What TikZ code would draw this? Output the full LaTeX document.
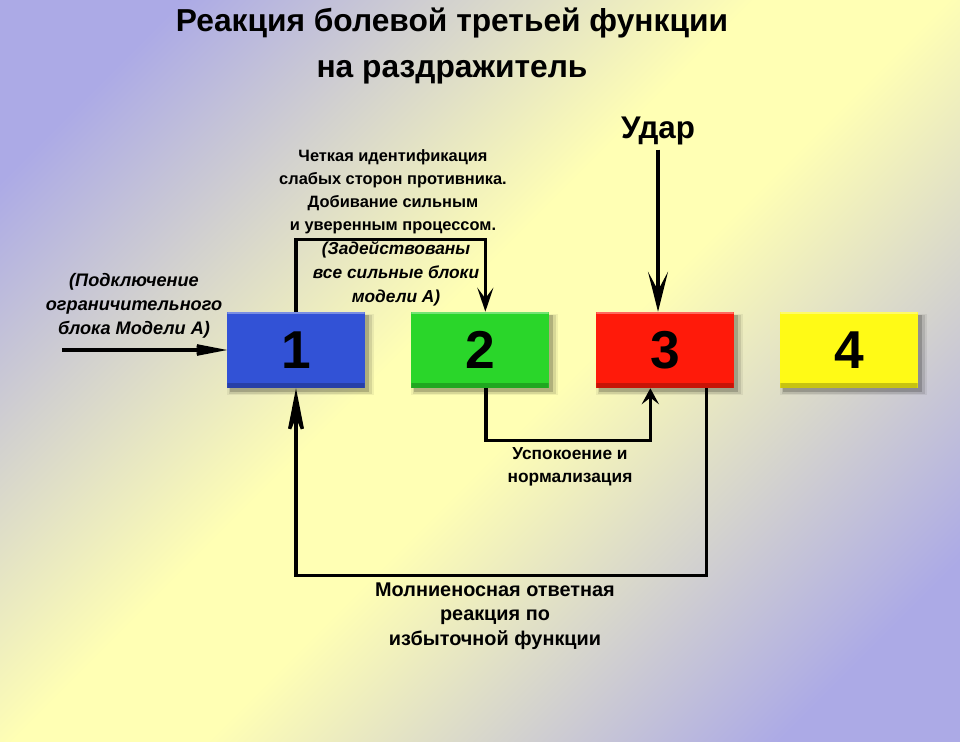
\documentclass[tikz,border=0pt]{standalone}
\usepackage{fontspec}
\setmainfont{Liberation Sans}
\usetikzlibrary{arrows.meta,shadows}
\definecolor{lav}{RGB}{172,170,230}
\definecolor{yel}{RGB}{255,255,180}
\definecolor{boxblue}{RGB}{50,82,214}
\definecolor{boxgreen}{RGB}{42,214,42}
\definecolor{boxred}{RGB}{255,26,10}
\definecolor{boxyellow}{RGB}{255,250,22}
\pgfdeclareverticalshading{bgband}{100bp}{color(0bp)=(lav); color(22bp)=(lav); color(46bp)=(yel); color(54bp)=(yel); color(78bp)=(lav); color(100bp)=(lav)}

\begin{document}
\begin{tikzpicture}[x=0.75pt, y=-0.75pt,
    numbox/.style={minimum width=103pt, minimum height=57pt, inner sep=0pt,
        font=\bfseries\fontsize{40}{48}\selectfont,
        general shadow={fill=black, opacity=.06, shadow scale=1.07, shadow xshift=3pt, shadow yshift=-3pt},
        general shadow={fill=black, opacity=.10, shadow scale=1.04, shadow xshift=3pt, shadow yshift=-3pt},
        general shadow={fill=black, opacity=.18, shadow scale=1.01, shadow xshift=2.5pt, shadow yshift=-2.5pt},
        path picture={
            \fill[black, opacity=.22] (path picture bounding box.south west) rectangle ([yshift=3.5pt]path picture bounding box.south east);
            \fill[white, opacity=.35] (path picture bounding box.north west) rectangle ([yshift=-1.5pt]path picture bounding box.north east);
        }},
    lbl/.style={align=center, font=\bfseries\fontsize{13}{17.25}\selectfont},
    ilbl/.style={align=center, font=\bfseries\itshape\fontsize{13}{18}\selectfont},
    link/.style={line width=2.5pt},
]
    %Background
    \useasboundingbox (0,0) rectangle (960,742);
    \shade[shading=bgband, shading angle=45] (0,0) rectangle (960,742);

    %Title
    \node[align=center, font=\bfseries\fontsize{23.8}{35}\selectfont] (title) at (452,46) {Реакция болевой третьей функции\\на раздражитель};

    %Boxes 1-4
    \node[numbox, fill=boxblue] (b1) at (296,350) {1};
    \node[numbox, fill=boxgreen] (b2) at (480,350) {2};
    \node[numbox, fill=boxred] (b3) at (665,350) {3};
    \node[numbox, fill=boxyellow] (b4) at (849,350) {4};

    %Labels
    \node[lbl, font=\bfseries\fontsize{12.3}{17.25}\selectfont] (ident) at (393,192) {Четкая идентификация\\слабых сторон противника.\\Добивание сильным\\и уверенным процессом.};
    \node[ilbl] (strong) at (396,274) {(Задействованы\\все сильные блоки\\модели А)};
    \node[ilbl, font=\bfseries\itshape\fontsize{13.6}{18}\selectfont] (limit) at (134,306) {(Подключение\\ограничительного\\блока Модели А)};
    \node[font=\bfseries\fontsize{23.5}{26}\selectfont] (udar) at (658,131) {Удар};
    \node[lbl] (calm) at (570,467) {Успокоение и\\нормализация};
    \node[lbl, font=\bfseries\fontsize{14.9}{18.4}\selectfont] (fast) at (495,616) {Молниеносная ответная\\реакция по\\избыточной функции};

    %Connectors
    \coordinate (in) at (62,350);
    \draw[link, -{Stealth[length=36pt, width=14pt, inset=18pt]}] (in) -- (b1);
    \draw[link, -{Stealth[length=18pt, width=12pt, inset=8pt]}] (b1.north) -- ++(0,-72) -| ([xshift=4pt]b2.north);
    \draw[link, -{Stealth[length=30pt, width=15pt, inset=14pt]}] (udar) -- (udar |- b3.north);
    \draw[link, -{Stealth[length=12pt, width=13pt, inset=5pt]}] ([xshift=4.5pt]b2.south) -- ++(0,52) -| ([xshift=-11pt]b3.south);
    \draw[link, -{Stealth[length=43pt, width=17pt, inset=21pt]}] ([xshift=31pt]b3.south) -- ++(0,187) -| (b1.south);
\end{tikzpicture}
\end{document}
